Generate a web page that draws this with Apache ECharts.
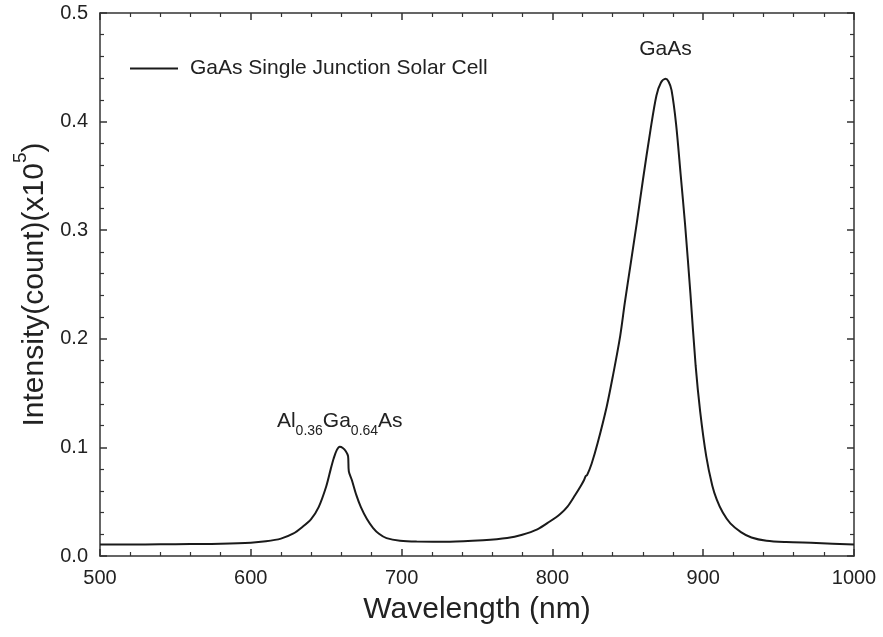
<!DOCTYPE html>
<html>
<head>
<meta charset="utf-8">
<title>GaAs Single Junction Solar Cell PL spectrum</title>
<script src="https://cdn.jsdelivr.net/npm/echarts@6/dist/echarts.min.js"></script>
<style>
  html, body { margin: 0; padding: 0; background: #fff; }
  #chart { width: 883px; height: 637px; }
</style>
</head>
<body>
<div id="chart"></div>
<script>
// Photoluminescence spectrum: wavelength (nm) and intensity (x10^5 counts)
const wavelength = [
  500, 520, 540, 560, 580, 600, 610, 620, 628, 634, 640, 645, 650, 653, 655, 657, 659, 661, 663, 664.5,
  665, 667, 670, 673, 677, 681, 685, 690, 699, 710, 732, 754, 770, 780, 790, 798, 805, 810, 815, 819,
  821, 822, 823, 826, 830, 836, 840, 845, 848, 852, 856, 860, 865, 869, 872, 875, 877, 879, 882, 885,
  888, 891.5, 895, 898, 902, 906, 909, 913, 918, 925, 932, 942, 955, 975, 1000
];
const intensity = [
  0.0105, 0.0106, 0.0108, 0.0110, 0.0113, 0.0122, 0.0135, 0.0160, 0.0205, 0.0265, 0.0340, 0.0450, 0.0640, 0.0800, 0.0900, 0.0975, 0.1005, 0.0995, 0.0965, 0.0920,
  0.0780, 0.0700, 0.0560, 0.0450, 0.0340, 0.0260, 0.0205, 0.0165, 0.0140, 0.0133, 0.0132, 0.0145, 0.0165, 0.0195, 0.0245, 0.0315, 0.0385, 0.0455, 0.0560, 0.0650,
  0.0700, 0.0735, 0.0745, 0.0850, 0.1040, 0.1375, 0.1650, 0.2030, 0.2330, 0.2700, 0.3070, 0.3460, 0.3920, 0.4240, 0.4360, 0.4395, 0.4370, 0.4290, 0.3980, 0.3520,
  0.3050, 0.2420, 0.1750, 0.1330, 0.0920, 0.0650, 0.0520, 0.0400, 0.0300, 0.0220, 0.0170, 0.0140, 0.0128, 0.0120, 0.0105
];

const seriesName = 'GaAs Single Junction Solar Cell';
const xTicks = [500, 600, 700, 800, 900, 1000];
const yTicks = [0.0, 0.1, 0.2, 0.3, 0.4, 0.5];

// Peak annotations: [wavelength, intensity] anchor and rich-text label
const peakLabels = [
  { at: [659, 0.121], text: '{m|Al}{s|0.36}{m|Ga}{s|0.64}{m|As}' },
  { at: [875, 0.464], text: '{m|GaAs}' }
];

const FONT = 'Liberation Sans, Arial, Helvetica, sans-serif';
const INK = '#222';
const AXIS = '#333';

const points = wavelength.map((w, i) => [w, intensity[i]]);

function frameAxis(base, extra) {
  return Object.assign({
    axisLine: { show: true, onZero: false, lineStyle: { color: AXIS, width: 1.5 } },
    axisTick: { show: true, inside: true, length: 7, lineStyle: { color: AXIS, width: 1.5 } },
    minorTick: { show: true, splitNumber: 5, length: 4, lineStyle: { color: AXIS, width: 1.2 } },
    splitLine: { show: false },
    minorSplitLine: { show: false }
  }, base, extra);
}

const xBase = { type: 'value', min: xTicks[0], max: xTicks[xTicks.length - 1], interval: 100 };
const yBase = { type: 'value', min: yTicks[0], max: yTicks[yTicks.length - 1], interval: 0.1 };

const option = {
  backgroundColor: '#fff',
  animation: false,
  textStyle: { fontFamily: FONT, color: INK },
  grid: { left: 100, right: 29, top: 13, bottom: 81, containLabel: false },
  legend: {
    data: [{ name: seriesName, icon: 'rect' }],
    left: 130,
    top: 58,
    padding: 0,
    itemWidth: 48,
    itemHeight: 2,
    itemStyle: { color: '#1a1a1a' },
    textStyle: { fontFamily: FONT, fontSize: 21, color: INK, padding: [0, 0, 0, 7] }
  },
  xAxis: [
    frameAxis(xBase, {
      position: 'bottom',
      name: 'Wavelength (nm)',
      nameLocation: 'middle',
      nameGap: 39,
      nameTextStyle: { fontFamily: FONT, fontSize: 30, color: INK },
      axisLabel: {
        show: true, margin: 12, fontFamily: FONT, fontSize: 20, color: INK,
        formatter: v => String(v)
      }
    }),
    frameAxis(xBase, { position: 'top', axisLabel: { show: false } })
  ],
  yAxis: [
    frameAxis(yBase, {
      position: 'left',
      name: '{m|Intensity(count)(x10}{p|5}{m|)}',
      nameLocation: 'middle',
      nameGap: 48,
      nameTextStyle: {
        fontFamily: FONT,
        color: INK,
        rich: {
          m: { fontFamily: FONT, fontSize: 30, lineHeight: 38, verticalAlign: 'bottom', color: INK },
          p: { fontFamily: FONT, fontSize: 19, lineHeight: 19, verticalAlign: 'top', color: INK }
        }
      },
      axisLabel: {
        show: true, margin: 12, fontFamily: FONT, fontSize: 20, color: INK,
        formatter: v => v.toFixed(1)
      }
    }),
    frameAxis(yBase, { position: 'right', axisLabel: { show: false } })
  ],
  series: [
    {
      name: seriesName,
      type: 'line',
      xAxisIndex: 0,
      yAxisIndex: 0,
      data: points,
      showSymbol: false,
      symbol: 'none',
      smooth: 0.3,
      lineStyle: { color: '#1a1a1a', width: 2 },
      itemStyle: { color: '#1a1a1a' },
      markPoint: {
        symbol: 'circle',
        symbolSize: 0,
        silent: true,
        label: {
          show: true,
          position: 'inside',
          color: INK,
          rich: {
            m: { fontFamily: FONT, fontSize: 21, lineHeight: 27, verticalAlign: 'top', color: INK },
            s: { fontFamily: FONT, fontSize: 14, lineHeight: 14, verticalAlign: 'bottom', color: INK }
          }
        },
        data: peakLabels.map(p => ({
          coord: p.at,
          value: p.text,
          label: { formatter: p.text }
        }))
      }
    }
  ]
};

const chart = echarts.init(document.getElementById('chart'), null, { renderer: 'canvas' });
chart.setOption(option);
</script>
</body>
</html>
